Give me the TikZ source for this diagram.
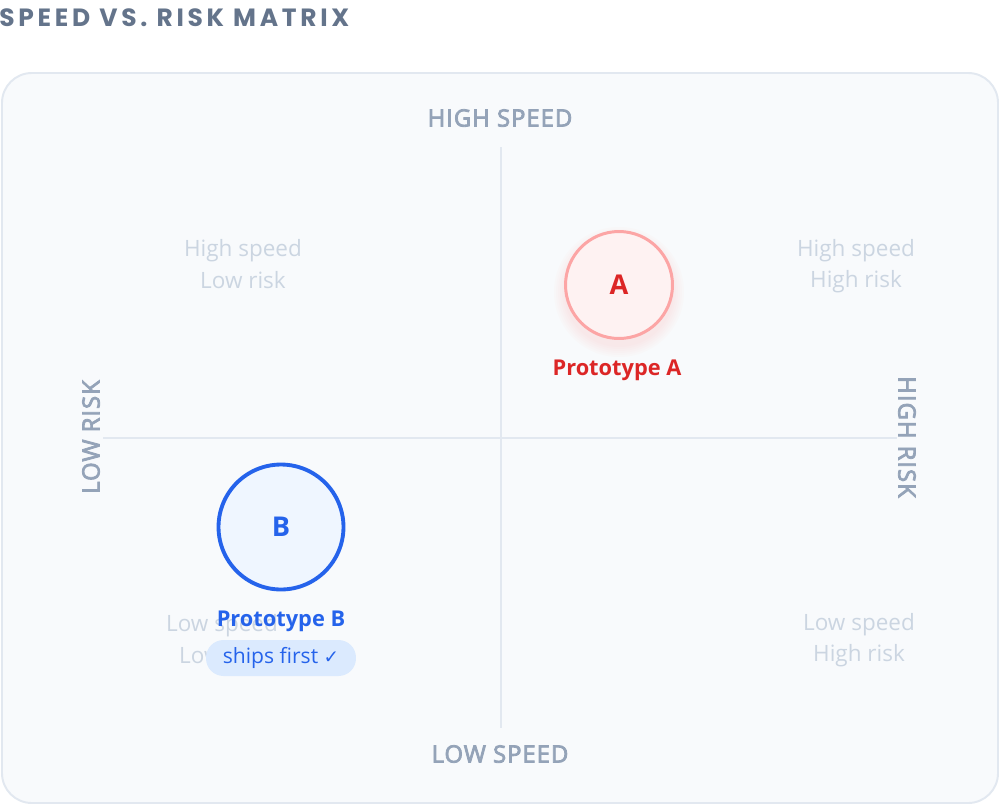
\documentclass[tikz,border=0pt]{standalone}
\usepackage{fontspec}
\setmainfont{Open Sans}
\newfontfamily\titlefont[LetterSpace=15]{Poppins}
\newfontfamily\axisfont[LetterSpace=4]{Open Sans}
\newfontfamily\symfont{DejaVu Sans}
\newcommand\semibold[1]{\special{pdf:literal direct 2 Tr 0.45 w}#1\special{pdf:literal direct 0 Tr 0.4 w}}
\usetikzlibrary{positioning}
\definecolor{panelfill}{HTML}{F8FAFC}
\definecolor{panelline}{HTML}{E2E8F0}
\definecolor{titlegray}{HTML}{64748B}
\definecolor{axisgray}{HTML}{94A3B8}
\definecolor{quadgray}{HTML}{CBD5E1}
\definecolor{redtext}{HTML}{DC2626}
\definecolor{redline}{HTML}{FCA5A5}
\definecolor{redfill}{HTML}{FEF2F2}
\definecolor{bluetext}{HTML}{2563EB}
\definecolor{bluefill}{HTML}{EFF6FF}
\definecolor{pillfill}{HTML}{DBEAFE}
\tikzset{x=0.02cm, y=-0.02cm,
axislabel/.style={ % Sets the properties for the axis names
text=axisgray, font=\fontsize{13.6}{15}\axisfont, inner sep=0pt},
quadlabel/.style={ % Faint labels in the four corners
text=quadgray, font=\fontsize{12.8}{18}\selectfont, align=center, inner sep=0pt},
bubble/.style={ % Circle of one prototype
circle, minimum size=#1, inner sep=0pt, font=\fontsize{15.5}{18}\selectfont\bfseries},
protolabel/.style={ % Name below a bubble
font=\fontsize{12.4}{14}\selectfont\bfseries, inner sep=0pt},
axisline/.style={draw=panelline, line width=1.1pt}}

\begin{document}
\begin{tikzpicture}
\useasboundingbox[fill=white] (0,0) rectangle (1000,805);
\node[anchor=west, text=titlegray, font=\fontsize{14.2}{16}\titlefont\bfseries, inner sep=0pt] (title) at (-1,18) {SPEED VS. RISK MATRIX};
\draw[fill=panelfill, draw=panelline, line width=1.1pt, rounded corners=17pt] (2,73) rectangle (998,803);
% axes
\coordinate (top) at (501,147);
\coordinate (bottom) at (501,728);
\coordinate (left) at (103,438);
\coordinate (right) at (897,438);
\draw[axisline] (top) -- (bottom);
\draw[axisline] (left) -- (right);
\node[axislabel] (hs) at (500,118) {\semibold{HIGH SPEED}};
\node[axislabel] (ls) at (500,754) {\semibold{LOW SPEED}};
\node[axislabel, rotate=90] (lr) at (91,437) {\semibold{LOW RISK}};
\node[axislabel, rotate=-90] (hr) at (907,437) {\semibold{HIGH RISK}};
% quadrants
\node[quadlabel] (q1) at (243,264) {High speed\\Low risk};
\node[quadlabel] (q2) at (856,266) {High speed\\High risk};
\node[quadlabel] (q3) at (222,639) {Low speed\\Low risk};
\node[quadlabel] (q4) at (859,640) {Low speed\\High risk};
% prototype A with soft shadow
\foreach \r in {55,57,...,65}
  \fill[redline, opacity=0.035] (619,292) circle (\r);
\node[bubble=2.14cm, fill=redfill, draw=redline, line width=1.7pt, text=redtext] (a) at (619,285) {A};
\node[protolabel, text=redtext] (pa) at (617,370) {Prototype A};
% prototype B
\node[bubble=2.5cm, fill=bluefill, draw=bluetext, line width=2.2pt, text=bluetext] (b) at (281,527) {B};
\node[protolabel, text=bluetext] (pb) at (281,621) {Prototype B};
\node[fill=pillfill, text=bluetext, rounded corners=10pt, minimum width=3cm, minimum height=0.72cm, inner sep=0pt, font=\fontsize{12}{13}\selectfont] (ship) at (281,658) {ships first {\symfont\fontsize{10.5}{10}\selectfont ✓}};
\end{tikzpicture}
\end{document}
